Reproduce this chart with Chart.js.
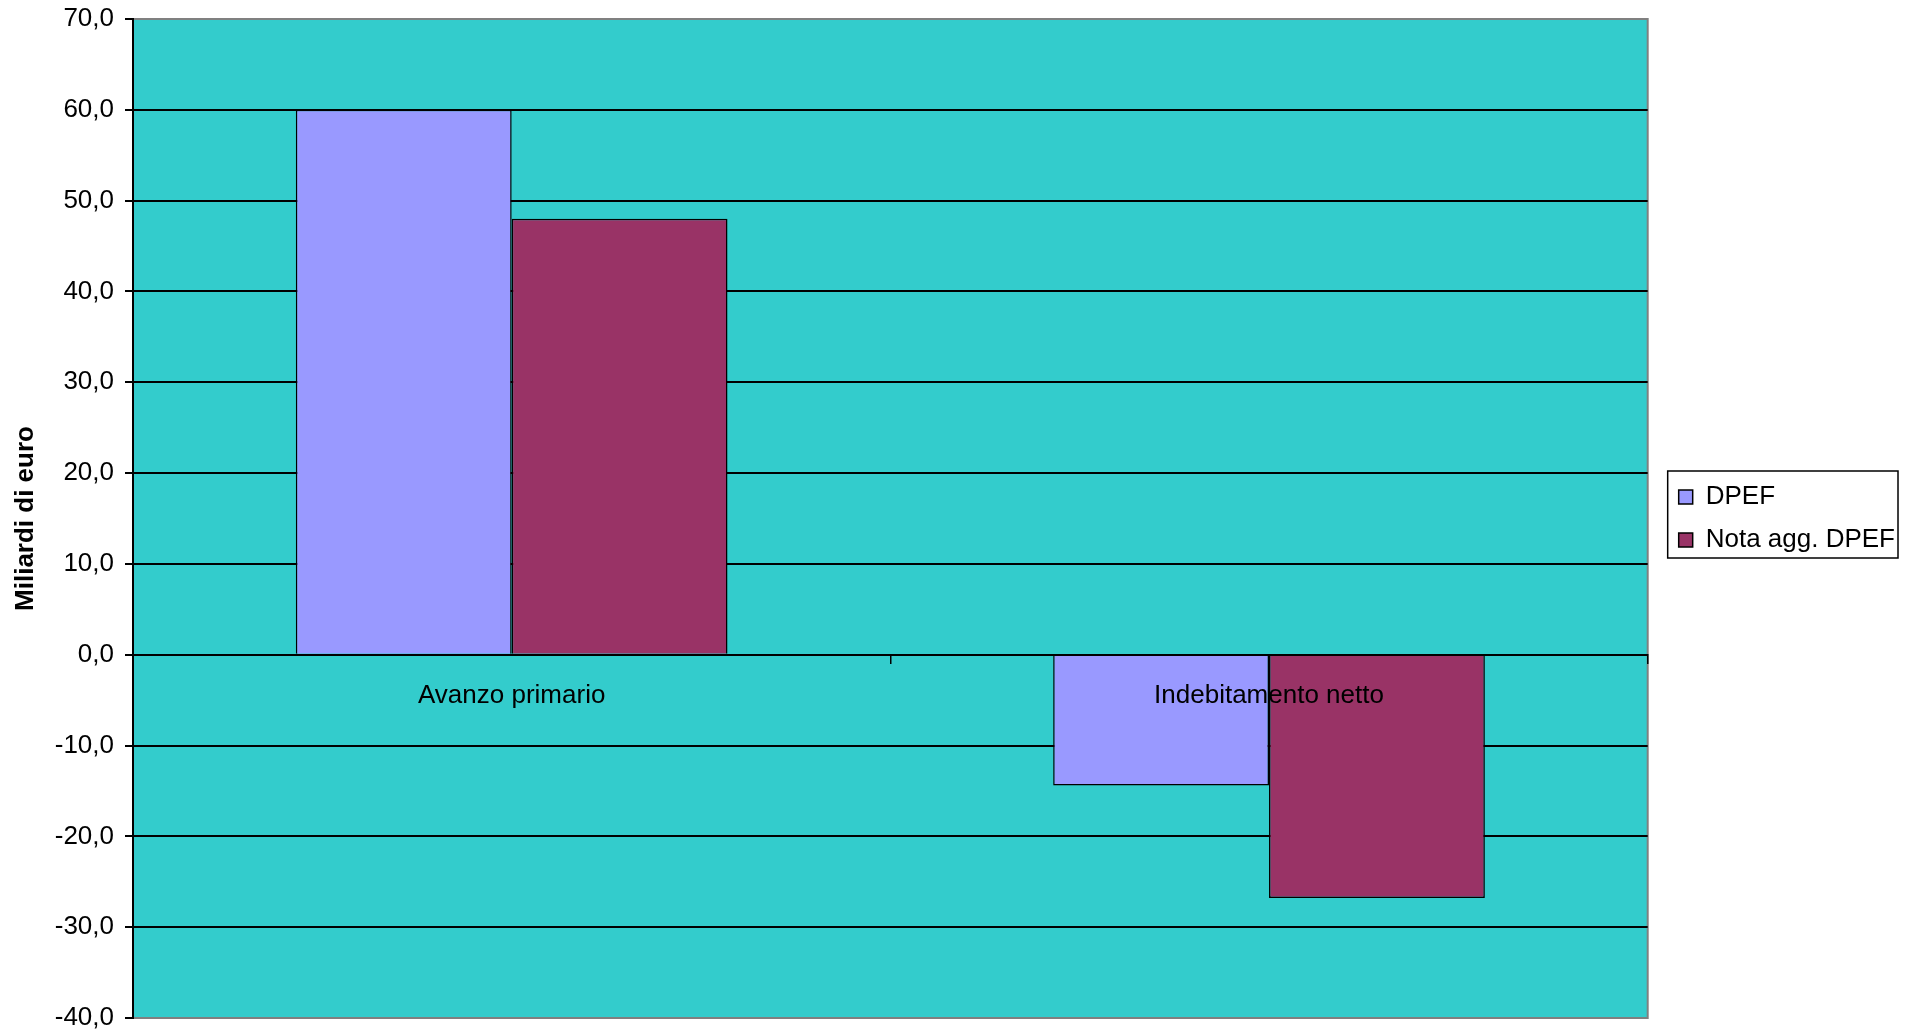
<!DOCTYPE html>
<html lang="it">
<head>
  <meta charset="UTF-8" />
  <title>DPEF vs Nota agg. DPEF</title>
  <script src="https://cdn.jsdelivr.net/npm/chart.js"></script>
  <style>
    html, body { margin: 0; padding: 0; background: #fff; }
    #wrap { width: 1910px; height: 1034px; }
  </style>
</head>
<body>
  <div id="wrap"><canvas id="myChart" width="1910" height="1034"></canvas></div>

  <script>
    const categories = ['Avanzo primario', 'Indebitamento netto'];
    const seriesNames = ['DPEF', 'Nota agg. DPEF'];
    const dpefValues = [60.0, -14.4];
    const notaValues = [48.0, -26.8];
    const yMin = -40;
    const yMax = 70;
    const yStep = 10;

    const FONT = 'Arial, "Liberation Sans", sans-serif';

    // sfondo dell'area del grafico + bordo grigio
    const plotBackground = {
      id: 'plotBackground',
      beforeDraw(chart) {
        const { ctx, chartArea: a } = chart;
        ctx.save();
        ctx.fillStyle = '#33CCCC';
        ctx.fillRect(a.left, a.top, a.right - a.left, a.bottom - a.top);
        ctx.strokeStyle = '#808080';
        ctx.lineWidth = 2;
        ctx.strokeRect(a.left, a.top, a.right - a.left, a.bottom - a.top);
        ctx.restore();
      }
    };

    // cornice attorno alla legenda
    const legendFrame = {
      id: 'legendFrame',
      afterDraw(chart) {
        const boxes = chart.legend && chart.legend.legendHitBoxes;
        if (!boxes || !boxes.length) return;
        const left = Math.min(...boxes.map(b => b.left)) - 11;
        const right = Math.max(...boxes.map(b => b.left + b.width)) + 3;
        const top = boxes[0].top - 13;
        const last = boxes[boxes.length - 1];
        const bottom = last.top + last.height + 5;
        const ctx = chart.ctx;
        ctx.save();
        ctx.strokeStyle = '#000';
        ctx.lineWidth = 1.5;
        ctx.strokeRect(left, top, right - left, bottom - top);
        ctx.restore();
      }
    };

    const ctx = document.getElementById('myChart').getContext('2d');
    new Chart(ctx, {
      type: 'bar',
      data: {
        labels: categories,
        datasets: [
          {
            label: seriesNames[0],
            data: dpefValues,
            backgroundColor: '#9999FF',
            borderColor: '#000',
            borderWidth: 1.5
          },
          {
            label: seriesNames[1],
            data: notaValues,
            backgroundColor: '#993366',
            borderColor: '#000',
            borderWidth: 1.5
          }
        ]
      },
      options: {
        responsive: false,
        animation: false,
        events: [],
        layout: { padding: { top: 19, bottom: 16, left: 0, right: 5 } },
        datasets: {
          bar: { categoryPercentage: 0.57, barPercentage: 1.0 }
        },
        plugins: {
          legend: {
            position: 'right',
            labels: {
              color: '#000',
              font: { family: FONT, size: 26 },
              boxWidth: 14,
              boxHeight: 14,
              padding: 17
            }
          },
          tooltip: { enabled: false }
        },
        scales: {
          x: {
            position: { y: 0 },
            offset: true,
            grid: {
              display: true,
              drawOnChartArea: false,
              drawTicks: true,
              tickLength: 8,
              color: '#000',
              lineWidth: 1.5
            },
            border: { display: true, color: '#000', width: 2, z: 1 },
            ticks: {
              color: '#000',
              font: { family: FONT, size: 26 },
              padding: 18,
              maxRotation: 0,
              z: 1
            }
          },
          y: {
            min: yMin,
            max: yMax,
            afterFit(scale) {
              scale.width = 133;
              scale.paddingTop = 0;
              scale.paddingBottom = 0;
            },
            ticks: {
              stepSize: yStep,
              color: '#000',
              font: { family: FONT, size: 26 },
              padding: 11,
              callback: v => v.toFixed(1).replace('.', ',')
            },
            grid: {
              color: c => (c.tick && (c.tick.value === yMax || c.tick.value === yMin)) ? '#808080' : '#000',
              lineWidth: 2,
              tickLength: 8,
              tickColor: '#000'
            },
            border: { display: true, color: '#000', width: 2 },
            title: {
              display: true,
              text: 'Miliardi di euro',
              color: '#000',
              font: { family: FONT, size: 26, weight: 'bold' },
              padding: { top: 10, bottom: 0 }
            }
          },
          gap: {
            position: 'right',
            display: true,
            afterFit(scale) { scale.width = 14; },
            grid: { display: false },
            border: { display: false },
            ticks: { display: false }
          }
        }
      },
      plugins: [plotBackground, legendFrame]
    });
  </script>
</body>
</html>
